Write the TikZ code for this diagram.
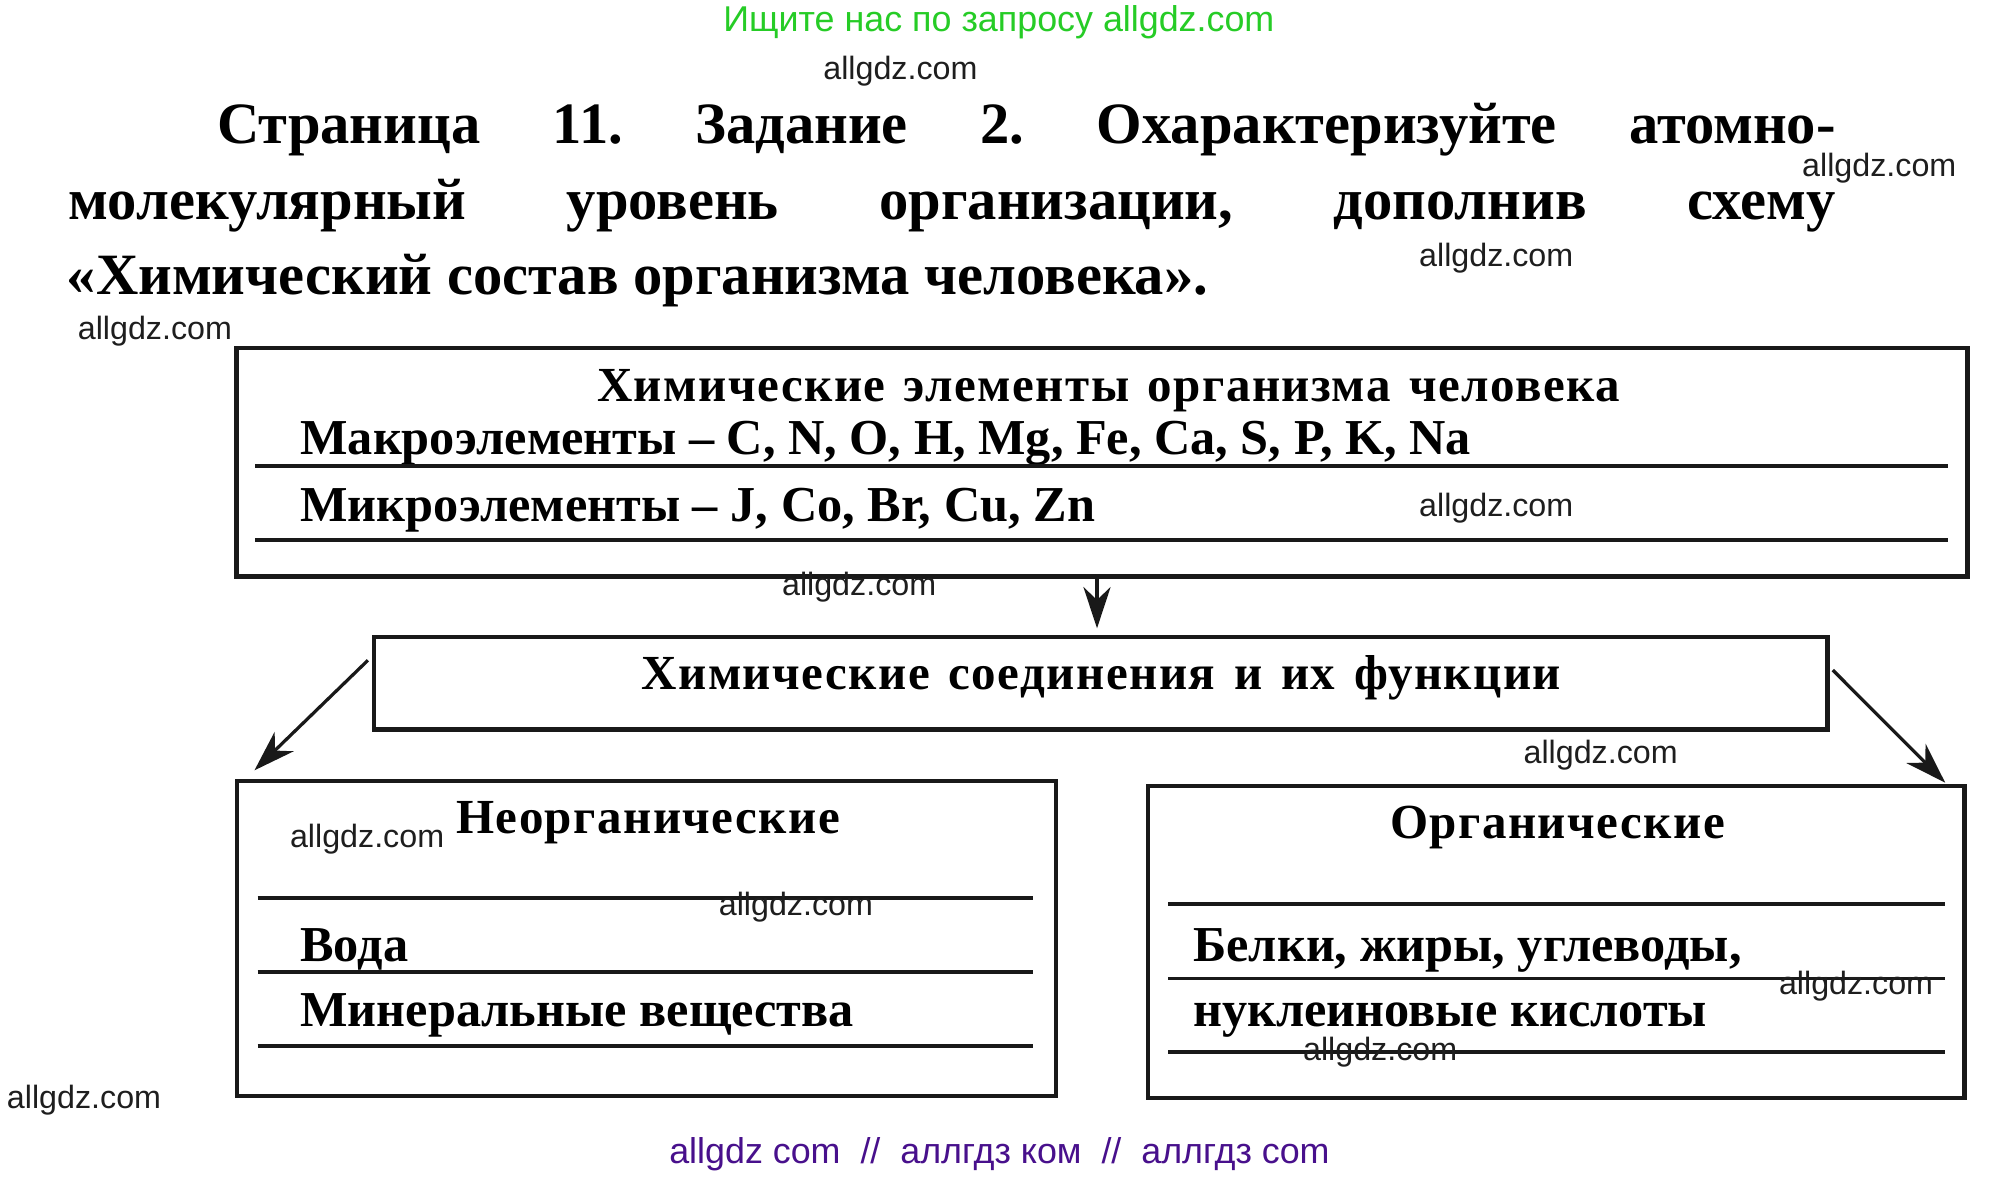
\documentclass[tikz,border=0pt]{standalone}
\usepackage{fontspec}
\setmainfont{Liberation Serif}
\newfontfamily\wmfont{Liberation Sans}
\usetikzlibrary{arrows.meta}
\definecolor{wmgreen}{RGB}{38,204,38}
\definecolor{wmpurple}{RGB}{72,16,140}
\definecolor{wmgray}{RGB}{30,30,30}
\definecolor{ink}{RGB}{25,25,25}
\frenchspacing
\begin{document}
\begin{tikzpicture}[x=0.5pt,y=-0.5pt,
  wmark/.style={font=\wmfont\fontsize{12.5}{14}\selectfont, text=wmgray, inner sep=0, anchor=base west},
  banner/.style={font=\wmfont\fontsize{13.9}{16}\selectfont, inner sep=0, anchor=base},
  titleline/.style={font=\bfseries\fontsize{22.7}{26}\selectfont, inner sep=0, anchor=base west},
  box/.style={draw=ink, line width=1.7pt, rectangle, inner sep=0, fill=none},
  rule/.style={draw=ink, line width=1.5pt},
  boxtext/.style={font=\bfseries\fontsize{19.5}{22}\selectfont, anchor=base west, inner sep=0},
  headtext/.style={font=\bfseries\fontsize{19}{22}\selectfont\addfontfeature{LetterSpace=3}, anchor=base, inner sep=0},
  arr/.style={draw=ink, line width=1.25pt, -{Stealth[length=16pt,width=10.5pt,inset=5pt]}}
]
\fill[white] (0,0) rectangle (1550,913.4);
\useasboundingbox (0,0) rectangle (1550,913.4);

% banners
\node[banner, text=wmgreen] (top) at (774.5,24.5) {Ищите нас по запросу allgdz.com};
\node[banner, text=wmpurple] (bottom) at (775,902) {allgdz com\ \ //\ \ аллгдз ком\ \ //\ \ аллгдз com};

% title
\node[titleline] (t1) at (168,111) {\makebox[627.5pt][s]{Страница 11. Задание 2. Охарактеризуйте атомно-}};
\node[titleline] (t2) at (53,170) {\makebox[685pt][s]{молекулярный уровень организации, дополнив схему}};
\node[titleline] (t3) at (51.4,228) {«Химический состав организма человека».};

% boxes
\node[box, minimum width=671pt, minimum height=88.5pt] (box1) at (854.5,358.5) {};
\node[box, minimum width=563.5pt, minimum height=35.85pt] (box2) at (853.5,529.75) {};
\node[box, minimum width=317.6pt, minimum height=122.2pt] (box3) at (501.4,727.6) {};
\node[box, minimum width=316.55pt, minimum height=121.1pt] (box4) at (1206.75,730.5) {};

% box 1 content
\node[headtext] (h1) at (855.5,311) {\makebox[392.5pt][s]{Химические\ \ элементы\ \ организма\ \ человека}};
\node[boxtext] (macro) at (232.5,352.8) {Макроэлементы – C, N, O, H, Mg, Fe, Ca, S, P, K, Na};
\node[boxtext] (micro) at (232.5,404.5) {Микроэлементы – J, Co, Br, Cu, Zn};
\draw[rule] (198,361.5) -- (1510.4,361.5);
\draw[rule] (198,419) -- (1510.4,419);

% box 2 content
\node[headtext] (h2) at (854,535) {\makebox[356.6pt][s]{Химические\ \ соединения\ \ и\ \ их\ \ функции}};

% box 3 content
\node[headtext] (h3) at (502.6,646.2) {Неорганические};
\draw[rule] (199.8,696.5) -- (801,696.5);
\node[boxtext] (voda) at (232.5,745.7) {Вода};
\draw[rule] (199.8,754) -- (801,754);
\node[boxtext] (miner) at (232.5,796) {Минеральные вещества};
\draw[rule] (199.8,811) -- (801,811);

% box 4 content
\node[headtext] (h4) at (1207.6,650) {Органические};
\draw[rule] (906,701) -- (1508.4,701);
\node[boxtext] (belki) at (924.8,745.7) {Белки, жиры, углеводы,};
\draw[rule] (906,758.7) -- (1508.4,758.7);
\node[boxtext] (nukl) at (924.8,796) {нуклеиновые кислоты};
\draw[rule] (906,816) -- (1508.4,816);

% connectors
\coordinate (dn) at (850.6,0);
\draw[arr, shorten >=2.5pt] (box1.south -| dn) -- (box2.north -| dn);
\draw[arr] ([xshift=-1.5pt,yshift=8.9pt]box2.west) -- ([xshift=7.6pt,yshift=3.2pt]box3.north west);
\draw[arr] ([xshift=1.2pt,yshift=5.1pt]box2.east) -- ([xshift=-8.35pt,yshift=0.4pt]box4.north east);

% watermarks
\node[wmark] (w1) at (638,61.5) {allgdz.com};
\node[wmark] (w2) at (1397,137) {allgdz.com};
\node[wmark] (w3) at (1100,206.8) {allgdz.com};
\node[wmark] (w4) at (60,263.6) {allgdz.com};
\node[wmark] (w5) at (1100,400.6) {allgdz.com};
\node[wmark] (w6) at (606,461.4) {allgdz.com};
\node[wmark] (w7) at (1181,591.9) {allgdz.com};
\node[wmark] (w8) at (224.5,657) {allgdz.com};
\node[wmark] (w9) at (557,709.5) {allgdz.com};
\node[wmark] (w10) at (1379,771.5) {allgdz.com};
\node[wmark] (w11) at (1010,822) {allgdz.com};
\node[wmark] (w12) at (5,859.4) {allgdz.com};
\end{tikzpicture}
\end{document}
